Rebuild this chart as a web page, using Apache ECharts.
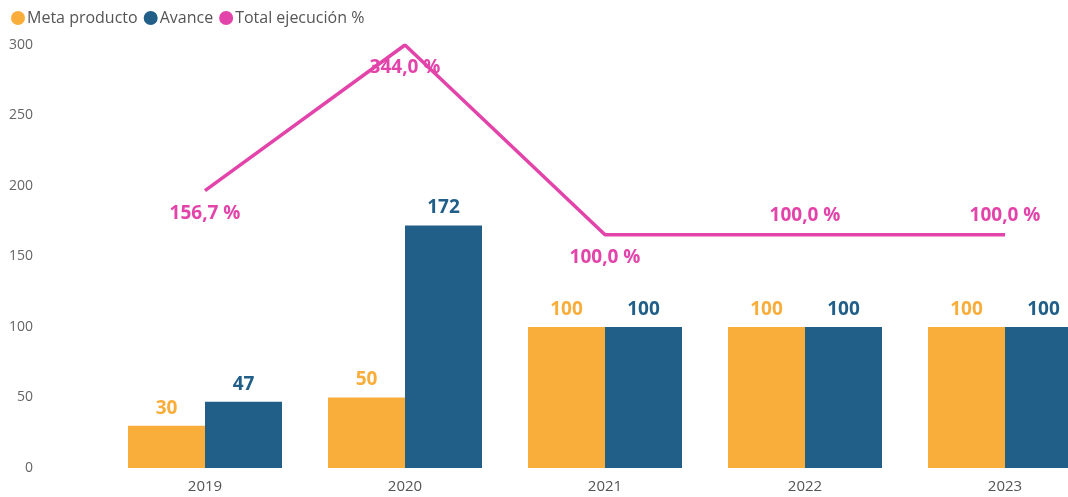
<!DOCTYPE html>
<html>
<head>
<meta charset="utf-8">
<script src="https://cdn.jsdelivr.net/npm/echarts@6/dist/echarts.min.js"></script>
<style>
    html, body { margin: 0; padding: 0; background: #fff; overflow: hidden; }
    /* el gráfico es más ancho que la ventana: la última barra queda cortada */
    #chart { width: 1105px; height: 497px; }
</style>
</head>
<body>
<div id="chart"></div>
<script>
// datos del gráfico
var years = ['2019', '2020', '2021', '2022', '2023'];
var meta = [30, 50, 100, 100, 100];
var avance = [47, 172, 100, 100, 100];
var ejecucion = [156.7, 344.0, 100.0, 100.0, 100.0];
var ejecucionPos = ['bottom', 'bottom', 'bottom', 'top', 'top'];
var yTicks = [0, 50, 100, 150, 200, 250, 300];

var fontFam = '"Segoe UI", "Open Sans", "Noto Sans", sans-serif';

window.onload = function () {
    var myChart = echarts.init(document.getElementById('chart'));

    // etiquetas de la línea: abajo o arriba según el punto
    var lineData = ejecucion.map(function (v, i) {
        var pos = ejecucionPos[i];
        return { value: v, label: { position: pos, distance: pos == 'bottom' ? 13 : 10 } };
    });

    var option = {
        animation: false,
        textStyle: { fontFamily: fontFam },
        legend: {
            left: 6,
            top: 5,
            icon: 'circle',
            itemWidth: 14,
            itemHeight: 14,
            itemGap: 6,
            textStyle: { color: '#555', fontSize: 16, fontFamily: fontFam, padding: [0, 0, 0, -3] },
            data: ['Meta producto', 'Avance', 'Total ejecución %']
        },
        grid: {
            left: 105,
            right: 0,
            top: 45,
            bottom: 29
        },
        xAxis: {
            type: 'category',
            data: years,
            axisLine: { show: false },
            axisTick: { show: false },
            axisLabel: { color: '#555', fontSize: 15, margin: 11 }
        },
        yAxis: [
            {
                type: 'value',
                min: yTicks[0],
                max: yTicks[yTicks.length - 1],
                interval: 50,
                splitLine: { show: false },
                axisLabel: { color: '#666', fontSize: 14, margin: 72 }
            },
            {
                type: 'value',
                min: -200,
                max: 344,
                show: false,
                splitLine: { show: false }
            }
        ],
        series: [
            {
                name: 'Meta producto',
                type: 'bar',
                data: meta,
                barWidth: 77,
                barGap: '0%',
                itemStyle: { color: '#F9AE3C' },
                label: {
                    show: true,
                    position: 'top',
                    distance: 8,
                    color: '#F9AE3C',
                    fontSize: 19,
                    fontWeight: 'bold'
                }
            },
            {
                name: 'Avance',
                type: 'bar',
                data: avance,
                barWidth: 77,
                itemStyle: { color: '#215F89' },
                label: {
                    show: true,
                    position: 'top',
                    distance: 8,
                    color: '#215F89',
                    fontSize: 19,
                    fontWeight: 'bold'
                }
            },
            {
                name: 'Total ejecución %',
                type: 'line',
                yAxisIndex: 1,
                data: lineData,
                symbol: 'circle',
                symbolSize: 0,
                showSymbol: true,
                lineStyle: { color: '#E344AA', width: 3.5 },
                itemStyle: { color: '#E344AA' },
                label: {
                    show: true,
                    color: '#E344AA',
                    fontSize: 19,
                    fontWeight: 'bold',
                    formatter: function (p) {
                        return p.value.toFixed(1).replace('.', ',') + ' %';
                    }
                }
            }
        ]
    };

    myChart.setOption(option);
};
</script>
</body>
</html>
